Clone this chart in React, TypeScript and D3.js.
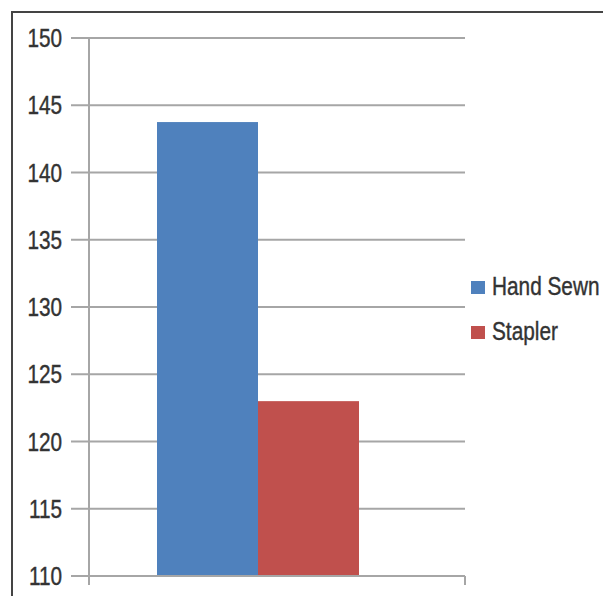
import React from "react";
import * as d3 from "d3";

const categories = ["Hand Sewn", "Stapler"];
const values = [143.75, 123.0];
const colors = ["#4f81bd", "#c0504d"];
const yTicks = [110, 115, 120, 125, 130, 135, 140, 145, 150];

export default function App() {
  const W = 603;
  const H = 596;
  const y = d3.scaleLinear().domain([110, 150]).range([576, 38]);
  const x = d3.scaleBand().domain(categories).range([157, 359]).padding(0);
  const axisX = 89;
  const plotRight = 465;
  const font = "'Liberation Sans', Arial, sans-serif";
  const gridColor = "#a6a6a6";

  return (
    <svg
      width={W}
      height={H}
      style={{ position: "absolute", left: 0, top: 0 }}
    >
      <rect width={W} height={H} fill="#fff" />
      {/* outer frame */}
      <path d={`M12,${H} L12,12 L${W},12`} fill="none" stroke="#444" strokeWidth={2} />

      {/* gridlines + y tick labels */}
      {yTicks.map((t) => (
        <g key={t}>
          <line
            x1={71}
            x2={plotRight}
            y1={y(t)}
            y2={y(t)}
            stroke={gridColor}
            strokeWidth={2}
          />
          <text
            transform={`translate(62,${y(t) + 9}) scale(0.83,1)`}
            textAnchor="end"
            fontFamily={font}
            fontSize={25}
            fill="#333"
            stroke="#333"
            strokeWidth={0.4}
          >
            {t}
          </text>
        </g>
      ))}

      {/* bars */}
      {categories.map((c, i) => (
        <rect
          key={c}
          x={x(c)}
          y={y(values[i])}
          width={x.bandwidth()}
          height={y(110) - y(values[i])}
          fill={colors[i]}
        />
      ))}

      {/* axes */}
      <line x1={axisX} x2={axisX} y1={y(150)} y2={585} stroke={gridColor} strokeWidth={2} />
      <line x1={71} x2={plotRight} y1={y(110)} y2={y(110)} stroke={gridColor} strokeWidth={2} />
      <line x1={plotRight} x2={plotRight} y1={y(110)} y2={585} stroke={gridColor} strokeWidth={2} />

      {/* legend */}
      {categories.map((c, i) => (
        <g key={c} transform={`translate(471,${281 + i * 45})`}>
          <rect width={14} height={13} fill={colors[i]} />
          <text
            transform="translate(21,14) scale(0.8,1)"
            fontFamily={font}
            fontSize={26}
            fill="#333"
            stroke="#333"
            strokeWidth={0.4}
          >
            {c}
          </text>
        </g>
      ))}
    </svg>
  );
}
